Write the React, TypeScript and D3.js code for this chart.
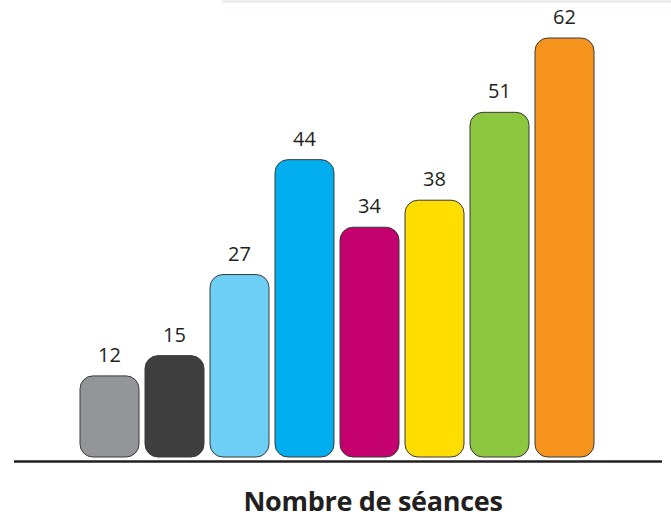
import React from "react";
import * as d3 from "d3";

const categories = ["a", "b", "c", "d", "e", "f", "g", "h"];
const values = [12, 15, 27, 44, 34, 38, 51, 62];
const colors = ["#939598", "#3f3f40", "#6dcff6", "#00aeef", "#c4006f", "#ffdd00", "#8dc63f", "#f7941d"];
const title = "Nombre de séances";

const W = 671;
const H = 520;

export default function App() {
  const x = d3
    .scaleBand<string>()
    .domain(categories)
    .range([77, 597])
    .paddingInner(6 / 65)
    .paddingOuter(3 / 65);
  const y = d3.scaleLinear().domain([0, 62]).range([457, 38]);
  const font = "'Open Sans', 'Noto Sans', sans-serif";
  return (
    <svg
      width={W}
      height={H}
      style={{ position: "absolute", left: 0, top: 0, background: "#fff" }}
    >
      <line x1={222} x2={671} y1={1.5} y2={1.5} stroke="#e6e7e8" strokeWidth={2} />
      {categories.map((c, i) => {
        const v = values[i];
        const bx = x(c)!;
        const by = y(v);
        return (
          <g key={c}>
            <rect
              x={bx}
              y={by}
              width={x.bandwidth()}
              height={y(0) - by}
              rx={13}
              ry={13}
              fill={colors[i]}
              stroke="#3a3a3a"
              strokeWidth={1}
            />
            <text
              x={bx + x.bandwidth() / 2}
              y={by - 14}
              textAnchor="middle"
              fontFamily={font}
              fontSize={20}
              fill="#231f20"
            >
              {v}
            </text>
          </g>
        );
      })}
      <line x1={14} x2={662} y1={461.5} y2={461.5} stroke="#231f20" strokeWidth={2.5} />
      <text
        x={373}
        y={511}
        textAnchor="middle"
        fontFamily={font}
        fontWeight={700}
        fontSize={27}
        letterSpacing={-0.3}
        fill="#231f20"
      >
        {title}
      </text>
    </svg>
  );
}
